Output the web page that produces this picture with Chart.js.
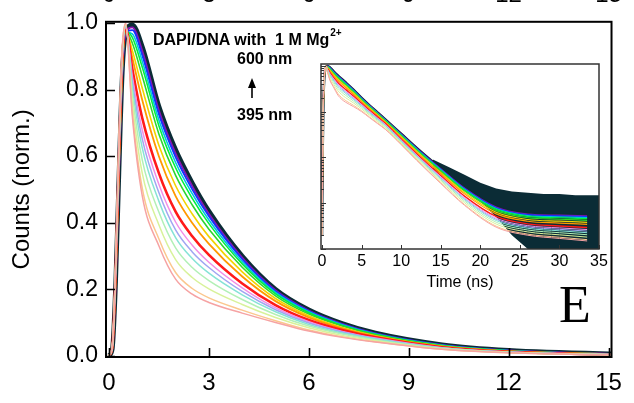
<!DOCTYPE html>
<html>
<head>
<meta charset="utf-8">
<script src="https://cdn.jsdelivr.net/npm/chart.js@4.4.1/dist/chart.umd.min.js"></script>
<style>
  html, body { margin: 0; padding: 0; background: #fff; }
  #wrap { position: relative; width: 634px; height: 403px; overflow: hidden; }
  #main { position: absolute; left: 0; top: 0; }
  #inset { position: absolute; left: 280px; top: 50px; }
  .lbl { position: absolute; font-family: "Liberation Sans", Arial, sans-serif; line-height: 1; white-space: pre; color: #000; }
  .b { font-weight: bold; font-size: 16px; }
  .topnum { font-size: 24px; transform: translateX(-50%); }
  .panel { font-family: "Liberation Serif", "Times New Roman", serif; font-size: 52px; }
</style>
</head>
<body>
<div id="wrap">
  <canvas id="main" width="634" height="403"></canvas>
  <canvas id="inset" width="340" height="245"></canvas>
  <div class="lbl b" style="left:153px; top:32px;">DAPI/DNA with  1 M Mg<span style="font-size:10px; position:relative; top:-9px; margin-left:1px;">2+</span></div>
  <div class="lbl b" style="left:237px; top:51px;">600 nm</div>
  <div class="lbl b" style="left:237px; top:107px;">395 nm</div>
  <div class="lbl panel" style="left:559px; top:279px;">E</div>
</div>
<script>
// time axis (ns), shared by all decays
const timeNs = [0, 0.1, 0.2, 0.3, 0.4, 0.5, 0.7, 1, 1.5, 2, 2.5, 3, 4, 5, 6, 7, 8, 10, 12, 15, 18, 22, 26, 30, 33.5];

// normalised counts, one decay per emission wavelength (395 nm lowest -> 600 nm highest)
const counts395 = [0.0002, 0.03, 0.28, 0.65, 0.93, 1.0, 0.72, 0.48, 0.33, 0.23, 0.185, 0.16, 0.128, 0.1, 0.074, 0.055, 0.041, 0.019, 0.0085, 0.0027, 0.0009, 0.0003, 0.0002, 0.00017, 0.00015];
const counts405 = [0.0002, 0.03, 0.277, 0.645, 0.926, 0.998, 0.734, 0.503, 0.351, 0.25, 0.202, 0.174, 0.137, 0.105, 0.077, 0.057, 0.042, 0.0195, 0.00877, 0.00281, 0.00094, 0.000316, 0.000211, 0.000181, 0.00016];
const counts415 = [0.0002, 0.029, 0.271, 0.635, 0.918, 0.996, 0.761, 0.548, 0.393, 0.289, 0.235, 0.201, 0.154, 0.115, 0.084, 0.061, 0.045, 0.0206, 0.00934, 0.00303, 0.00103, 0.000351, 0.000236, 0.000204, 0.000182];
const counts425 = [0.0002, 0.028, 0.266, 0.626, 0.911, 0.993, 0.786, 0.588, 0.431, 0.324, 0.265, 0.226, 0.169, 0.124, 0.089, 0.065, 0.047, 0.0217, 0.00989, 0.00324, 0.00112, 0.000385, 0.00026, 0.000227, 0.000205];
const counts435 = [0.0002, 0.027, 0.261, 0.618, 0.904, 0.99, 0.808, 0.624, 0.464, 0.355, 0.292, 0.248, 0.183, 0.132, 0.094, 0.068, 0.05, 0.0227, 0.0104, 0.00345, 0.0012, 0.000419, 0.000284, 0.00025, 0.000227];
const counts450 = [0.0002, 0.026, 0.257, 0.612, 0.9, 0.989, 0.825, 0.651, 0.49, 0.378, 0.312, 0.265, 0.193, 0.138, 0.098, 0.071, 0.051, 0.0234, 0.0108, 0.00361, 0.00126, 0.000446, 0.000304, 0.000269, 0.000246];
const counts460 = [0.0002, 0.026, 0.254, 0.606, 0.895, 0.987, 0.841, 0.678, 0.515, 0.402, 0.332, 0.281, 0.204, 0.144, 0.102, 0.073, 0.053, 0.0242, 0.0112, 0.00378, 0.00133, 0.000474, 0.000324, 0.000289, 0.000266];
const counts470 = [0.0002, 0.025, 0.249, 0.598, 0.888, 0.984, 0.863, 0.714, 0.548, 0.433, 0.359, 0.303, 0.217, 0.152, 0.107, 0.077, 0.055, 0.0253, 0.0118, 0.00402, 0.00143, 0.000515, 0.000354, 0.000319, 0.000295];
const counts485 = [0.0002, 0.024, 0.242, 0.586, 0.879, 0.981, 0.896, 0.768, 0.599, 0.48, 0.399, 0.336, 0.238, 0.164, 0.115, 0.082, 0.058, 0.0271, 0.0127, 0.00441, 0.0016, 0.000584, 0.000404, 0.000369, 0.000345];
const counts500 = [0.0002, 0.023, 0.237, 0.578, 0.872, 0.978, 0.918, 0.804, 0.632, 0.511, 0.426, 0.358, 0.252, 0.172, 0.12, 0.085, 0.06, 0.0283, 0.0134, 0.00468, 0.00171, 0.000635, 0.000441, 0.000406, 0.000382];
const counts515 = [0.0002, 0.022, 0.232, 0.57, 0.866, 0.976, 0.94, 0.84, 0.666, 0.542, 0.453, 0.38, 0.266, 0.18, 0.125, 0.089, 0.063, 0.0296, 0.0141, 0.00498, 0.00184, 0.00069, 0.000482, 0.000447, 0.000424];
const counts530 = [0.0002, 0.021, 0.228, 0.564, 0.861, 0.974, 0.957, 0.867, 0.691, 0.565, 0.473, 0.397, 0.276, 0.186, 0.129, 0.091, 0.064, 0.0306, 0.0146, 0.00521, 0.00194, 0.000734, 0.000515, 0.000481, 0.000459];
const counts545 = [0.0002, 0.021, 0.226, 0.56, 0.858, 0.973, 0.968, 0.885, 0.708, 0.581, 0.487, 0.408, 0.283, 0.19, 0.132, 0.093, 0.065, 0.0312, 0.015, 0.00538, 0.00201, 0.000766, 0.000538, 0.000505, 0.000483];
const counts560 = [0.0002, 0.021, 0.224, 0.556, 0.855, 0.972, 0.979, 0.903, 0.725, 0.597, 0.5, 0.419, 0.29, 0.194, 0.134, 0.094, 0.066, 0.0319, 0.0154, 0.00554, 0.00209, 0.000798, 0.000562, 0.00053, 0.000509];
const counts580 = [0.0002, 0.02, 0.222, 0.553, 0.852, 0.971, 0.987, 0.917, 0.737, 0.608, 0.51, 0.427, 0.295, 0.197, 0.136, 0.096, 0.067, 0.0325, 0.0157, 0.00567, 0.00214, 0.000824, 0.000581, 0.000549, 0.000529];
const counts600 = [0.0002, 0.02, 0.22, 0.55, 0.85, 0.97, 0.995, 0.93, 0.75, 0.62, 0.52, 0.435, 0.3, 0.2, 0.138, 0.097, 0.068, 0.033, 0.016, 0.0058, 0.0022, 0.00085, 0.0006, 0.00057, 0.00055];

const wavelengths = [395, 405, 415, 425, 435, 450, 460, 470, 485, 500, 515, 530, 545, 560, 580, 600];
const series = [counts395, counts405, counts415, counts425, counts435, counts450, counts460, counts470,
                counts485, counts500, counts515, counts530, counts545, counts560, counts580, counts600];

// noisy background band of the longest-lived decay, seen in the log inset
const noiseTimes = [14, 16, 18, 20, 22, 24, 26, 28, 30, 32, 34, 35];
const noiseTop = [0.009, 0.0062, 0.0042, 0.0028, 0.0021, 0.0018, 0.0017, 0.0016, 0.0016, 0.0015, 0.0015, 0.0015];
const noiseBottom = [0.0055, 0.0035, 0.0019, 0.0011, 0.0005, 0.0002, 0.0001, 0.0001, 0.0001, 0.0001, 0.0001, 0.0001];

const xTicks = [0, 3, 6, 9, 12, 15];
const yTicks = [0, 0.2, 0.4, 0.6, 0.8, 1.0];
const insetXTicks = [0, 5, 10, 15, 20, 25, 30, 35];

const lineColors = ['#f6a3a3', '#fbc78e', '#d8f29a', '#b2f0b6', '#86e3d6', '#a0a6f2', '#f28ee6', '#ff1a1a',
                    '#ff9a00', '#f2d400', '#2fd62f', '#00f040', '#00c4e0', '#1434ff', '#8a12b0', '#0b2c36'];
const mainWidths = [1.5, 1.5, 1.5, 1.5, 1.5, 1.5, 1.5, 2.6, 1.8, 1.6, 1.6, 1.6, 1.6, 1.8, 1.8, 4.5];
const insetWidths = [1, 1, 1, 1, 1, 1, 1, 1.4, 1.2, 1.2, 1.2, 1.2, 1.2, 1.2, 1.2, 2.4];

Chart.defaults.font.family = '"Liberation Sans", Arial, sans-serif';
Chart.defaults.color = '#000';

function decayDatasets(widths) {
  return series.map((vals, i) => ({
    label: wavelengths[i] + ' nm',
    data: timeNs.map((t, j) => ({ x: t, y: vals[j] })),
    borderColor: lineColors[i],
    borderWidth: widths[i],
    pointRadius: 0,
    cubicInterpolationMode: 'monotone',
    fill: false
  }));
}

// box frame + ticks pointing inward
const frameTicks = {
  id: 'frameTicks',
  afterDatasetsDraw(chart, args, opts) {
    const { ctx, chartArea: a, scales: { x, y } } = chart;
    ctx.save();
    ctx.strokeStyle = opts.color;
    ctx.lineWidth = opts.width;
    ctx.strokeRect(a.left, a.top, a.right - a.left, a.bottom - a.top);
    ctx.beginPath();
    x.ticks.forEach(t => {
      const px = Math.round(x.getPixelForValue(t.value)) + 0.5;
      ctx.moveTo(px, a.bottom);
      ctx.lineTo(px, a.bottom - opts.xLen);
    });
    y.ticks.forEach(t => {
      const py = Math.round(y.getPixelForValue(t.value)) + 0.5;
      const major = opts.log ? Math.abs(Math.log10(t.value) - Math.round(Math.log10(t.value))) < 1e-6 : true;
      ctx.moveTo(a.left, py);
      ctx.lineTo(a.left + (major ? opts.yLen : opts.yMinorLen), py);
    });
    ctx.lineWidth = opts.tickWidth;
    ctx.stroke();
    if (opts.arrow) {
      // wavelength arrow, 395 nm -> 600 nm
      ctx.fillStyle = '#000';
      ctx.lineWidth = 1.6;
      ctx.beginPath();
      ctx.moveTo(252, 98);
      ctx.lineTo(252, 86);
      ctx.stroke();
      ctx.beginPath();
      ctx.moveTo(248, 88);
      ctx.lineTo(256, 88);
      ctx.lineTo(252, 78);
      ctx.closePath();
      ctx.fill();
    }
    ctx.restore();
  }
};

const mainChart = new Chart(document.getElementById('main'), {
  type: 'line',
  data: { datasets: decayDatasets(mainWidths) },
  plugins: [frameTicks],
  options: {
    responsive: false,
    animation: false,
    devicePixelRatio: 1,
    layout: { padding: { left: 0, right: 22, top: 21, bottom: 0 } },
    plugins: {
      legend: { display: false },
      tooltip: { enabled: false },
      frameTicks: { color: '#000', width: 2, tickWidth: 1.6, xLen: 9, yLen: 9, yMinorLen: 5, arrow: true }
    },
    scales: {
      x: {
        type: 'linear', min: -0.09, max: 15.09,
        afterBuildTicks: s => { s.ticks = xTicks.map(v => ({ value: v })); },
        afterFit: s => { s.height = 46; },
        grid: { display: false, drawTicks: false },
        border: { display: false },
        ticks: { font: { size: 24 }, padding: 12, maxRotation: 0, callback: v => String(v) }
      },
      y: {
        type: 'linear', min: -0.004, max: 1.004,
        afterBuildTicks: s => { s.ticks = yTicks.map(v => ({ value: v })); },
        afterFit: s => { s.width = 106; },
        grid: { display: false, drawTicks: false },
        border: { display: false },
        ticks: { font: { size: 23 }, padding: 8, callback: v => v.toFixed(1) },
        title: { display: true, text: 'Counts (norm.)', font: { size: 24 }, padding: { top: 8, bottom: 0 } }
      }
    }
  }
});

// tick labels of the panel above, cut by the top edge
const xs = mainChart.scales.x;
xTicks.forEach(v => {
  const d = document.createElement('div');
  d.className = 'lbl topnum';
  d.textContent = String(v);
  d.style.left = xs.getPixelForValue(v) + 'px';
  d.style.top = '-18px';
  document.getElementById('wrap').appendChild(d);
});

const insetSets = decayDatasets(insetWidths);
insetSets.push({
  label: 'noise top',
  data: noiseTimes.map((t, j) => ({ x: t, y: noiseTop[j] })),
  borderWidth: 0, pointRadius: 0, fill: false
});
insetSets.push({
  label: 'noise bottom',
  data: noiseTimes.map((t, j) => ({ x: t, y: noiseBottom[j] })),
  borderWidth: 0, pointRadius: 0, backgroundColor: '#0b2c36', fill: '-1'
});

new Chart(document.getElementById('inset'), {
  type: 'line',
  data: { datasets: insetSets },
  plugins: [frameTicks],
  options: {
    responsive: false,
    animation: false,
    devicePixelRatio: 1,
    layout: { padding: { left: 0, right: 21, top: 14, bottom: 3 } },
    plugins: {
      legend: { display: false },
      tooltip: { enabled: false },
      filler: { propagate: false },
      frameTicks: { color: '#333', width: 1.5, tickWidth: 1, xLen: 4, yLen: 5, yMinorLen: 3, log: true }
    },
    scales: {
      x: {
        type: 'linear', min: -0.13, max: 35,
        afterBuildTicks: s => { s.ticks = insetXTicks.map(v => ({ value: v })); },
        afterFit: s => { s.height = 43; },
        grid: { display: false, drawTicks: false },
        border: { display: false },
        ticks: { font: { size: 16 }, padding: 3, maxRotation: 0, callback: v => String(v) },
        title: { display: true, text: 'Time (ns)', font: { size: 16 }, padding: { top: 0, bottom: 0 } }
      },
      y: {
        type: 'logarithmic', min: 1e-4, max: 1.1,
        afterBuildTicks: s => {
          const t = [];
          for (let e = -4; e <= 0; e++) {
            for (let m = 1; m <= 9; m++) {
              const v = m * Math.pow(10, e);
              if (v <= 1.1) t.push({ value: v });
            }
          }
          s.ticks = t;
        },
        afterFit: s => { s.width = 41; },
        grid: { display: false, drawTicks: false },
        border: { display: false },
        ticks: { display: false }
      }
    }
  }
});
</script>
</body>
</html>
